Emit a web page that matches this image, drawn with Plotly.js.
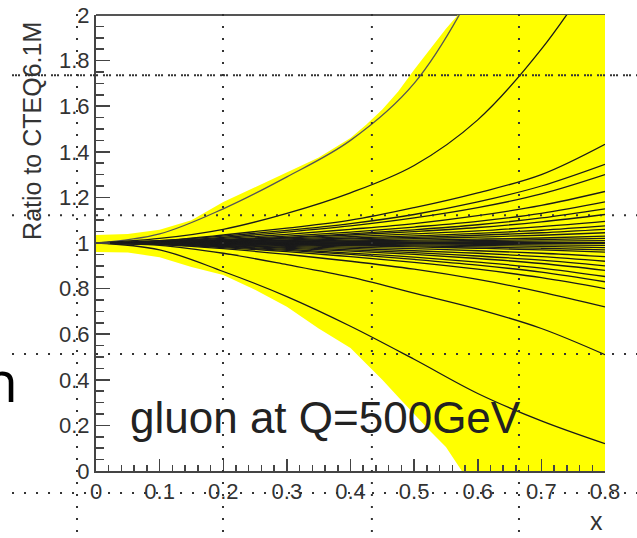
<!DOCTYPE html>
<html>
<head>
<meta charset="utf-8">
<script src="https://cdn.plot.ly/plotly-3.0.1.min.js"></script>
<style>
html,body{margin:0;padding:0;background:#fff;}
#chart{width:637px;height:538px;}
</style>
</head>
<body>
<div id="chart"></div>
<script>
// ---- data ----
const xGrid = [0, 0.1, 0.2, 0.3, 0.4, 0.5, 0.6, 0.7, 0.8];

const bandX     = [0, 0.05, 0.1, 0.15, 0.2, 0.25, 0.3, 0.35, 0.4, 0.425, 0.45, 0.475, 0.5, 0.525, 0.55, 0.575, 0.6, 0.65, 0.7, 0.75, 0.8];
const bandUpper = [1.035, 1.04, 1.058, 1.10, 1.18, 1.245, 1.31, 1.375, 1.46, 1.52, 1.585, 1.665, 1.76, 1.85, 1.94, 2.02, 2.05, 2.05, 2.05, 2.05, 2.05];
const bandLower = [0.96, 0.958, 0.938, 0.895, 0.86, 0.795, 0.72, 0.625, 0.54, 0.47, 0.40, 0.325, 0.25, 0.175, 0.105, 0.0, -0.05, -0.05, -0.05, -0.05, -0.05];

const lineA = [1.0, 1.04, 1.15, 1.29, 1.45, 1.70, 2.15, 2.8, 3.5];
const lineB = [1.0, 1.02, 1.06, 1.13, 1.22, 1.34, 1.54, 1.85, 2.25];
const lineC = [1.0, 1.01, 1.035, 1.065, 1.10, 1.155, 1.22, 1.30, 1.433];
const lineD = [1.0, 1.01, 1.03, 1.055, 1.085, 1.125, 1.18, 1.25, 1.345];
const lineE = [1.0, 1.008, 1.025, 1.048, 1.075, 1.11, 1.155, 1.215, 1.30];
const lineF = [1.0, 1.006, 1.02, 1.038, 1.06, 1.085, 1.12, 1.165, 1.226];
const lineG = [1.0, 1.005, 1.016, 1.03, 1.048, 1.07, 1.095, 1.13, 1.18];
const lineH = [1.0, 1.004, 1.013, 1.025, 1.04, 1.058, 1.08, 1.11, 1.15];
const lineI = [1.0, 1.004, 1.012, 1.022, 1.035, 1.05, 1.068, 1.093, 1.125];
const lineJ = [1.0, 1.003, 1.01, 1.018, 1.028, 1.04, 1.053, 1.072, 1.095];
const lineK = [1.0, 1.002, 1.008, 1.014, 1.022, 1.031, 1.042, 1.056, 1.075];
const lineL = [1.0, 1.002, 1.006, 1.011, 1.018, 1.025, 1.034, 1.045, 1.06];
const lineM = [1.0, 1.002, 1.005, 1.009, 1.013, 1.019, 1.026, 1.034, 1.045];
const lineN = [1.0, 1.001, 1.003, 1.006, 1.009, 1.013, 1.017, 1.022, 1.03];
const lineO1 = [1.0, 1.001, 1.002, 1.004, 1.006, 1.008, 1.011, 1.015, 1.02];
const lineO2 = [1.0, 1.0, 1.001, 1.002, 1.003, 1.004, 1.006, 1.008, 1.01];
const lineCentral = [1.0, 1.0, 1.0, 1.0, 1.0, 1.0, 1.0, 1.0, 1.0];
const lineO3 = [1.0, 1.0, 0.999, 0.998, 0.997, 0.996, 0.994, 0.992, 0.99];
const lineO4 = [1.0, 0.999, 0.998, 0.996, 0.994, 0.992, 0.989, 0.985, 0.98];
const lineO5 = [1.0, 0.999, 0.997, 0.994, 0.991, 0.987, 0.983, 0.977, 0.97];
const lineO6 = [1.0, 0.999, 0.996, 0.992, 0.988, 0.983, 0.977, 0.97, 0.96];
const lineS1 = [1.0, 0.998, 0.994, 0.989, 0.982, 0.975, 0.966, 0.955, 0.94];
const lineS2 = [1.0, 0.998, 0.992, 0.985, 0.976, 0.966, 0.955, 0.94, 0.92];
const lineS3 = [1.0, 0.997, 0.99, 0.981, 0.97, 0.958, 0.943, 0.925, 0.90];
const lineS4 = [1.0, 0.997, 0.988, 0.977, 0.964, 0.95, 0.932, 0.91, 0.88];
const lineS5 = [1.0, 0.996, 0.985, 0.972, 0.956, 0.938, 0.916, 0.89, 0.853];
const lineS6 = [1.0, 0.995, 0.983, 0.968, 0.95, 0.928, 0.903, 0.872, 0.83];
const lineS7 = [1.0, 0.994, 0.98, 0.962, 0.94, 0.915, 0.885, 0.848, 0.80];
const lineR = [1.0, 0.993, 0.975, 0.95, 0.92, 0.885, 0.84, 0.785, 0.72];
const lineQ = [1.0, 0.99, 0.955, 0.905, 0.85, 0.78, 0.71, 0.625, 0.51];
const lineP = [1.0, 0.97, 0.875, 0.765, 0.635, 0.49, 0.34, 0.22, 0.12];

const curveSets = [lineA, lineB, lineC, lineD, lineE, lineF, lineG, lineH, lineI, lineJ, lineK, lineL,
  lineM, lineN, lineO1, lineO2, lineCentral, lineO3, lineO4, lineO5, lineO6, lineS1, lineS2, lineS3,
  lineS4, lineS5, lineS6, lineS7, lineR, lineQ, lineP];

const xTickVals = [0, 0.1, 0.2, 0.3, 0.4, 0.5, 0.6, 0.7, 0.8];
const xTickText = ['0', '0.1', '0.2', '0.3', '0.4', '0.5', '0.6', '0.7', '0.8'];
const yTickVals = [0, 0.2, 0.4, 0.6, 0.8, 1, 1.2, 1.4, 1.6, 1.8, 2];
const yTickText = ['0', '0.2', '0.4', '0.6', '0.8', '1', '1.2', '1.4', '1.6', '1.8', '2'];

const titleText = 'gluon at Q=500GeV';
const yTitleText = 'Ratio to CTEQ6.1M';
const xTitleText = 'x';

// ---- traces ----
const traces = [];
traces.push({x: bandX, y: bandLower, mode: 'lines', line: {width: 0},
  hoverinfo: 'skip', showlegend: false});
traces.push({x: bandX, y: bandUpper, mode: 'lines', line: {width: 0},
  fill: 'tonexty', fillcolor: '#ffff00', hoverinfo: 'skip', showlegend: false});
curveSets.forEach(function (ys, i) {
  traces.push({x: xGrid, y: ys, mode: 'lines',
    line: {color: i === 0 ? '#555555' : '#1a1a1a', width: ys === lineCentral ? 2.2 : 1.3, shape: 'spline', smoothing: 1},
    hoverinfo: 'skip', showlegend: false});
});

// slide guide overlay (dotted lines crossing the whole picture)
const guideX = [-0.0373, 0.2495, 0.542, 0.831];
const guideY = [0.868, 0.561, 0.2566, -0.048];
const shapes = [
  {type: 'line', xref: 'paper', yref: 'paper', x0: 0, x1: 1, y0: 1, y1: 1, layer: 'below',
   line: {color: '#555', width: 2}}
];
guideX.forEach(function (gx) {
  shapes.push({type: 'line', xref: 'paper', yref: 'paper', x0: gx, x1: gx, y0: -0.16, y1: 1.02, layer: 'above',
    line: {color: '#333', width: 2, dash: '2px,10px'}});
});
guideY.forEach(function (gy, k) {
  shapes.push({type: 'line', xref: 'paper', yref: 'paper', x0: -0.165, x1: 1.07, y0: gy, y1: gy, layer: 'above',
    line: {color: '#333', width: 2, dash: k === 0 ? '2px,1px,2px,1px,2px,5px' : '2px,10px'}});
});

const tickFont = {family: 'Liberation Sans, Arial, sans-serif', size: 22, color: '#333'};

const layout = {
  width: 637, height: 538,
  margin: {l: 96, r: 32, t: 15, b: 67, pad: 0},
  paper_bgcolor: '#ffffff', plot_bgcolor: '#ffffff',
  showlegend: false,
  xaxis: {range: [0, 0.8], tickvals: xTickVals, ticktext: xTickText, ticks: 'inside', ticklen: 12,
    tickwidth: 1.5, tickcolor: '#444', showline: true, linecolor: '#444', linewidth: 2,
    showgrid: false, zeroline: false, tickfont: tickFont, layer: 'above traces',
    minor: {dtick: 0.02, ticks: 'inside', ticklen: 6, tickwidth: 1.5, tickcolor: '#444', showgrid: false}},
  yaxis: {range: [0, 2], tickvals: yTickVals, ticktext: yTickText, ticks: 'inside', ticklen: 14,
    tickwidth: 1.5, tickcolor: '#444', showline: true, linecolor: '#444', linewidth: 2,
    showgrid: false, zeroline: false, tickfont: tickFont, layer: 'above traces',
    minor: {dtick: 0.05, ticks: 'inside', ticklen: 8, tickwidth: 1.5, tickcolor: '#444', showgrid: false}},
  shapes: shapes,
  annotations: [
    {text: titleText, xref: 'paper', yref: 'paper', x: 0.063, y: 0.118, xanchor: 'left', yanchor: 'middle',
     showarrow: false, font: {family: 'Liberation Sans, Arial, sans-serif', size: 44, color: '#222'}},
    {text: yTitleText, xref: 'paper', yref: 'paper', x: -0.126, y: 0.989, xanchor: 'center', yanchor: 'top',
     textangle: -90, showarrow: false, font: {family: 'Liberation Sans, Arial, sans-serif', size: 25, color: '#333'}},
    {text: xTitleText, xref: 'paper', yref: 'paper', x: 1.0, y: -0.11, xanchor: 'right', yanchor: 'middle',
     showarrow: false, font: {family: 'Liberation Sans, Arial, sans-serif', size: 25, color: '#333'}},
    {text: 'n', xref: 'paper', yref: 'paper', x: -0.150, y: 0.2, xanchor: 'right', yanchor: 'middle',
     showarrow: false, font: {family: 'Open Sans, sans-serif', size: 57, color: '#000'}}
  ]
};

Plotly.newPlot('chart', traces, layout, {staticPlot: true, displayModeBar: false});
</script>
</body>
</html>
